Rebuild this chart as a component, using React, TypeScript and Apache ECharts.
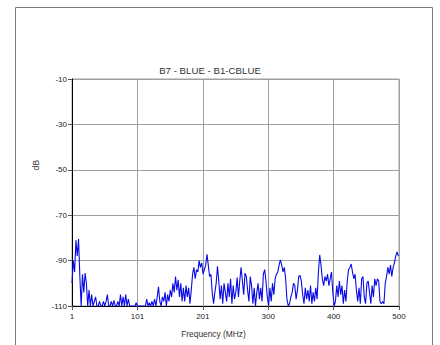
import React, { useEffect, useRef } from "react";
import * as echarts from "echarts";

// Sweep: first frequency and step (MHz)
const FREQ_START_MHZ = 1;
const FREQ_STEP_MHZ = 2;

const LEVEL_DB = [
  -100, -90, -95, -81, -88, -80.5, -97, -110, -96, -104,
  -95.5, -100, -110, -103, -110, -105, -110, -108, -106, -110,
  -110, -108, -110, -110, -108, -110, -108, -105, -110, -110,
  -108, -110, -107.5, -110, -110, -108, -110, -105, -110, -106,
  -110, -105, -110, -107, -110, -110, -110, -110, -110, -108.5,
  -110, -110, -110, -110, -110, -110, -110, -107, -110, -108.5,
  -110, -108, -110, -107, -110, -106, -101.5, -108, -110, -106,
  -108, -104, -110, -105, -108, -103, -106, -100, -104, -97,
  -103, -98.5, -106, -100, -108, -102, -108, -101, -106, -102,
  -109, -103, -96, -93, -98, -94, -95, -90, -93, -91,
  -96, -94, -92, -87.2, -92, -97, -96, -104, -109, -104,
  -100, -92.5, -99, -107, -101, -109, -100, -104, -108, -100,
  -106, -98, -109, -101, -107, -104, -97.5, -106, -99, -93,
  -99, -105, -95.5, -97, -103, -108, -97, -101, -109, -102,
  -110, -104, -100, -107, -102, -108, -96, -94, -99, -106,
  -110, -102, -108, -100, -105, -98, -96, -95, -92, -89.7,
  -92, -95, -93, -98, -107, -110, -109, -106, -104, -100,
  -101, -107, -103, -97, -96.5, -99, -105, -109, -102, -107,
  -103, -108, -101, -109, -104, -108, -102, -107, -95, -87.5,
  -92, -98, -101, -97, -99, -96, -101, -98, -95, -104,
  -110, -108, -101, -106, -99, -105, -101, -109, -103, -108,
  -99, -94, -93, -91.5, -95, -98, -96, -103, -108, -102,
  -109, -98, -97, -106, -109, -100, -99, -104, -109, -101,
  -106, -98, -101, -98, -99, -108, -109, -108, -109, -100,
  -97, -93, -96, -92, -97, -93, -91, -88, -86.2, -88,
];

const X_MIN_MHZ = 1;
const X_MAX_MHZ = 500;
const Y_MIN_DB = -110;
const Y_MAX_DB = -10;
const Y_STEP_DB = 20;
const X_DIVISIONS = 5;

const TITLE = "B7 - BLUE - B1-CBLUE";
const X_NAME = "Frequency (MHz)";
const Y_NAME = "dB";

const FONT = "'Liberation Sans', Arial, Helvetica, sans-serif";

export default function App() {
  const ref = useRef<HTMLDivElement>(null);

  useEffect(() => {
    if (!ref.current) return;
    const chart = echarts.init(ref.current, undefined, { renderer: "svg" });

    // axes are offset so that tick counting starts at 0
    const data = LEVEL_DB.map((v, i) => [
      FREQ_START_MHZ + i * FREQ_STEP_MHZ - X_MIN_MHZ,
      v - Y_MIN_DB,
    ]);
    const xSpan = X_MAX_MHZ - X_MIN_MHZ;

    chart.setOption({
      animation: false,
      backgroundColor: "#ffffff",
      grid: {
        left: 72,
        top: 79,
        right: 41,
        bottom: 39,
        show: true,
        borderColor: "#a0a0a0",
        borderWidth: 1,
        backgroundColor: "#ffffff",
        containLabel: false,
        outerBoundsMode: "none",
      },
      xAxis: {
        type: "value",
        min: 0,
        max: xSpan,
        interval: xSpan / X_DIVISIONS,
        axisLine: { onZero: false, lineStyle: { color: "#000000", width: 1 } },
        axisTick: { show: true, length: 4, lineStyle: { color: "#555555" } },
        splitLine: { show: true, lineStyle: { color: "#a0a0a0", width: 1 } },
        axisLabel: {
          show: true,
          showMinLabel: true,
          showMaxLabel: true,
          formatter: (v: number) => String(Math.round(v + X_MIN_MHZ)),
          fontSize: 8,
          color: "#222222",
          fontFamily: FONT,
          margin: 6,
        },
      },
      yAxis: {
        type: "value",
        min: 0,
        max: Y_MAX_DB - Y_MIN_DB,
        interval: Y_STEP_DB,
        axisLine: { show: true, onZero: false, lineStyle: { color: "#000000", width: 1 } },
        axisTick: { show: true, length: 4, lineStyle: { color: "#555555" } },
        splitLine: { show: true, lineStyle: { color: "#a0a0a0", width: 1 } },
        axisLabel: {
          show: true,
          showMinLabel: true,
          showMaxLabel: true,
          formatter: (v: number) => String(Math.round(v + Y_MIN_DB)),
          fontSize: 8,
          color: "#222222",
          fontFamily: FONT,
          margin: 5,
        },
      },
      series: [
        {
          type: "line",
          data,
          showSymbol: false,
          symbol: "none",
          clip: true,
          lineStyle: { color: "#0a0ae6", width: 1.1 },
          itemStyle: { color: "#0a0ae6" },
        },
      ],
      graphic: [
        {
          type: "rect",
          silent: true,
          shape: { x: 15.5, y: 7.5, width: 417, height: 350 },
          style: { fill: "none", stroke: "#7a7a7a", lineWidth: 1 },
        },
        {
          type: "text",
          x: 210,
          y: 70.5,
          style: {
            text: TITLE,
            fill: "#333333",
            font: `9.7px ${FONT}`,
            textAlign: "center",
            textVerticalAlign: "middle",
          },
        },
        {
          type: "text",
          x: 213.5,
          y: 334,
          style: {
            text: X_NAME,
            fill: "#333333",
            font: `8.4px ${FONT}`,
            textAlign: "center",
            textVerticalAlign: "middle",
          },
        },
        {
          type: "text",
          x: 35.5,
          y: 165,
          rotation: Math.PI / 2,
          style: {
            text: Y_NAME,
            fill: "#333333",
            font: `8.4px ${FONT}`,
            textAlign: "center",
            textVerticalAlign: "middle",
          },
        },
      ],
    });

    return () => chart.dispose();
  }, []);

  return (
    <div
      ref={ref}
      style={{ position: "fixed", left: 0, top: 0, width: 440, height: 345 }}
    />
  );
}
